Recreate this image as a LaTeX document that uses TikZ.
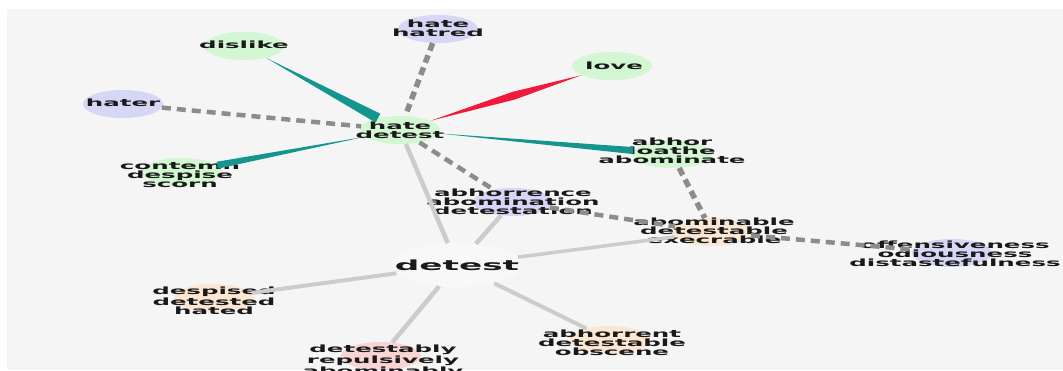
\documentclass[tikz,border=0pt]{standalone}
\usepackage{fontspec}
\newfontfamily\wordfont{DejaVu Sans}[FakeStretch=2.45]
\usepackage{tikz}
\usetikzlibrary{
    calc,
    shapes.geometric
}
\definecolor{paper}{HTML}{F5F5F5}
\definecolor{leafgreen}{HTML}{D2F7D2}
\definecolor{lavender}{HTML}{D6D6F7}
\definecolor{peach}{HTML}{FBE6D2}
\definecolor{blush}{HTML}{F8D4D4}
\definecolor{tealedge}{HTML}{14968F}
\definecolor{rededge}{HTML}{EE1C3A}
\definecolor{midgrey}{HTML}{8C8C8C}
\definecolor{lightgrey}{HTML}{CCCCCC}
\tikzstyle{blob} = [
    ellipse,
    minimum width=80pt,
    minimum height=28pt,
    inner sep=0pt
]
\tikzstyle{word} = [
    align=center,
    inner sep=0pt,
    text=black!90,
    font=\wordfont\bfseries\fontsize{10}{9}\selectfont
]
\tikzstyle{syn} = [
    draw=lightgrey,
    line width=4.5pt
]
\tikzstyle{rel} = [
    draw=midgrey,
    line width=4.5pt,
    dash pattern=on 9pt off 6pt
]
% tapered edge: point at #1, wide at #2
\newcommand\taper[4]{%
    \path (#1) -- (#2) coordinate[pos=0] (tp0) coordinate[pos=1] (tp1);
    \fill[#4] (tp0) -- ($(tp1)!#3!90:(tp0)$) -- ($(tp1)!#3!-90:(tp0)$) -- cycle;}

\begin{document}
\begin{tikzpicture}[x=1pt, y=-1pt]
        \clip (0,0) rectangle (1063,370);
        \fill[white] (0,0) rectangle (1063,370);
        \fill[paper] (7,9) rectangle (1063,370);

        % Sense nodes
        \node[blob, fill=leafgreen] (dislike) at (244,46) {};
        \node[blob, fill=lavender] (hatred) at (438,29) {};
        \node[blob, fill=leafgreen] (love) at (612,66) {};
        \node[blob, fill=lavender] (hater) at (123,104) {};
        \node[blob, fill=leafgreen] (hate) at (400,130) {};
        \node[blob, fill=leafgreen] (contemn) at (182,172) {};
        \node[blob, fill=leafgreen] (abhor) at (672,154) {};
        \node[blob, fill=lavender] (abhorrence) at (513,202) {};
        \node[blob, fill=peach] (abominable) at (712,232) {};
        \node[blob, fill=lavender] (odious) at (952,253) {};
        \node[blob, fill=peach] (despised) at (214,298) {};
        \node[blob, fill=peach] (abhorrent) at (610,340) {};
        \node[blob, fill=blush] (detestably) at (381,356) {};
        \node[ellipse, minimum width=130pt, minimum height=44pt, inner sep=0pt,
            fill=white!35!paper] (detest) at (457,265) {};

        % Words
        \node[word] (dislike-t) at (244,45) {dislike};
        \node[word] (hatred-t) at (438,28.5) {hate\\hatred};
        \node[word] (love-t) at (614,66) {love};
        \node[word] (hater-t) at (123,103) {hater};
        \node[word] (hate-t) at (400,130) {hate\\detest};
        \node[word] (contemn-t) at (180,175.5) {contemn\\despise\\scorn};
        \node[word] (abhor-t) at (672,151) {abhor\\loathe\\abominate};
        \node[word] (abhorrence-t) at (513,202) {abhorrence\\abomination\\detestation};
        \node[word] (abominable-t) at (714,230.5) {abominable\\detestable\\execrable};
        \node[word] (odious-t) at (955,253.5) {offensiveness\\odiousness\\distastefulness};
        \node[word] (despised-t) at (214,301) {despised\\detested\\hated};
        \node[word] (abhorrent-t) at (612,342.5) {abhorrent\\detestable\\obscene};
        \node[word] (detestably-t) at (383,361) {detestably\\repulsively\\abominably};
        \node[word, font=\wordfont\bfseries\fontsize{14}{16}\selectfont]
            (detest-t) at (457,265) {detest};

        % Synonym links
        \draw[syn] (detest) -- (hate);
        \draw[syn] (detest) -- (abhorrence);
        \draw[syn, line width=3.5pt] (detest) -- (abominable);
        \draw[syn, line width=4pt] (detest) -- (despised);
        \draw[syn] (detest) -- (detestably);
        \draw[syn, line width=4pt] (detest) -- (abhorrent);

        % Related links
        \draw[rel] (hater) -- (hate);
        \draw[rel, line width=5.5pt, dash pattern=on 8pt off 5pt] (hatred) -- (hate);
        \draw[rel] (hate) -- (abhorrence);
        \draw[rel] (abhorrence) -- (abominable);
        \draw[rel, line width=5.5pt, dash pattern=on 8pt off 5pt] (abhor) -- (abominable);
        \draw[rel] (abominable) -- (odious);

        % Tapered links
        \taper{dislike}{hate}{5pt}{tealedge}
        \taper{hate}{contemn}{3.5pt}{tealedge}
        \taper{hate}{abhor}{3.5pt}{tealedge}

        % Antonym
        \path (love) -- (hate) coordinate[pos=0] (ant0)
            coordinate[pos=.45] (antm) coordinate[pos=1] (ant1);
        \fill[rededge] (ant0) -- ($(antm)!4pt!90:(ant1)$) -- (ant1)
            -- ($(antm)!4pt!-90:(ant1)$) -- cycle;
    \end{tikzpicture}
\end{document}
